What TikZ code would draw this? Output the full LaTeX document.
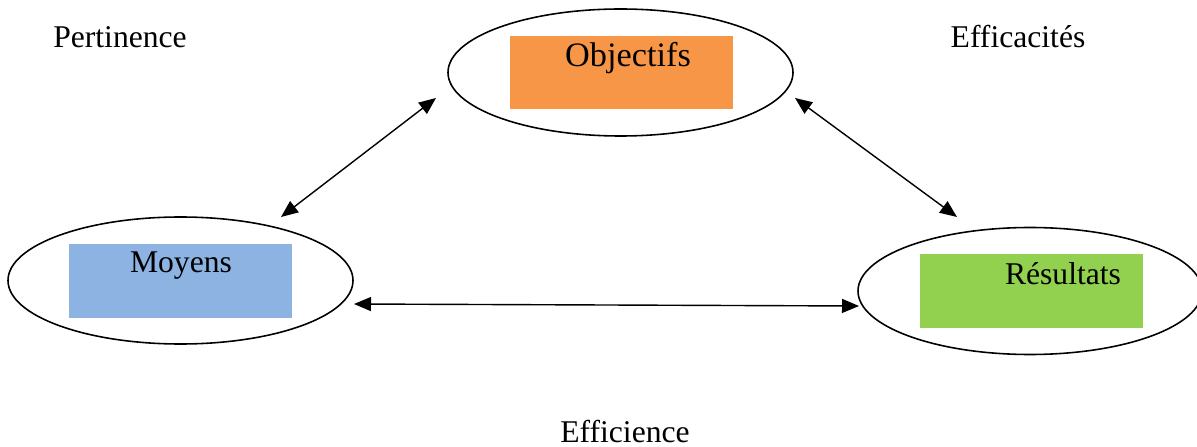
\documentclass[tikz,border=0pt]{standalone}
\usepackage{fontspec}
\setmainfont{Liberation Serif}
\usepackage{tikz}
\usetikzlibrary{shapes.geometric,arrows.meta}

\definecolor{objorange}{HTML}{F79646}
\definecolor{moyblue}{HTML}{8DB3E2}
\definecolor{resgreen}{HTML}{92D050}

\tikzset{
    pole/.style={ellipse, draw, line width=0.9pt, minimum width=6.9cm, minimum height=2.54cm, inner sep=0pt},
    box/.style={rectangle, inner sep=0pt, minimum width=4.46cm, minimum height=1.46cm},
    word/.style={anchor=base, inner sep=0pt, font=\fontsize{18}{21}\selectfont},
    link/.style={line width=0.8pt, {Triangle[length=3.4mm,width=2.8mm]}-{Triangle[length=3.4mm,width=2.8mm]}}
}

\begin{document}
\begin{tikzpicture}[x=0.2mm, y=-0.2mm]
        \useasboundingbox (0,0) rectangle (1197,447);
        % the three poles
        \node[pole] (obj) at (620.5,72.5) {};
        \node[pole] (moy) at (180.5,280.5) {};
        \node[pole, minimum width=6.88cm] (res) at (1030,291) {};
        \node[box, fill=objorange] (objbox) at (621.5,72.5) {};
        \node[box, fill=moyblue] (moybox) at (180.5,281) {};
        \node[box, fill=resgreen] (resbox) at (1031,291) {};
        \node[word, font=\fontsize{19.5}{23}\selectfont] (objtxt) at (628,67) {Objectifs};
        \node[word] (moytxt) at (181,273) {Moyens};
        \node[word] (restxt) at (1063,285) {Résultats};
        % criteria
        \node[word] (pert) at (120,48) {Pertinence};
        \node[word] (effic) at (1018,48) {Efficacités};
        \node[word] (effie) at (625,442) {Efficience};
        % arrow ends
        \coordinate (a1) at (436,98);
        \coordinate (a2) at (281,217);
        \coordinate (b1) at (795,98);
        \coordinate (b2) at (957,217);
        \coordinate (c1) at (354,304);
        \coordinate (c2) at (859,306);
        \draw[link] (a1) -- (a2);
        \draw[link] (b1) -- (b2);
        \draw[link] (c1) -- (c2);
\end{tikzpicture}
\end{document}
